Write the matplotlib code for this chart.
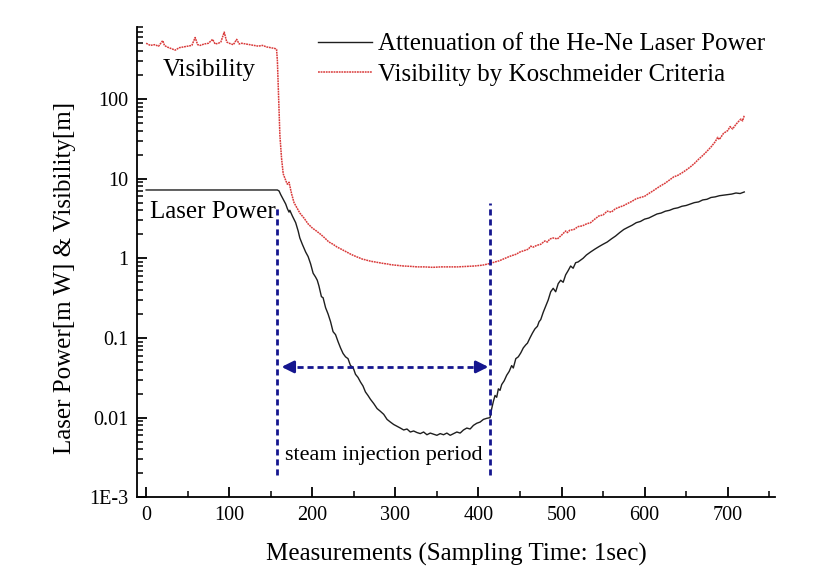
import numpy as np
import matplotlib
matplotlib.use("Agg")
import matplotlib.pyplot as plt
from matplotlib.ticker import FixedLocator, FixedFormatter, MultipleLocator, LogLocator, NullFormatter

# ---------------- data ----------------
vis_x = [0, 5, 10, 15, 20, 22, 25, 30, 35, 40, 45, 50, 55, 59, 62, 65, 70, 75, 80, 83, 87, 90, 94, 97,
         100, 105, 109, 112, 115, 120, 125, 130, 135, 140, 145, 150, 155, 157, 158, 159, 160, 161, 163,
         165, 168, 170, 172, 175, 178, 182, 185, 190, 195, 200, 205, 210, 215, 220, 225, 230, 235, 240,
         246, 250, 255, 260, 265, 270, 275, 280, 286, 290, 295, 300, 310, 320, 326, 335, 345, 355, 365,
         375, 385, 395, 405, 414, 420, 425, 430, 435, 440, 445, 450, 455, 460, 463, 466, 470, 475, 480,
         483, 486, 490, 495, 500, 505, 507, 510, 515, 520, 525, 530, 535, 540, 545, 550, 555, 560, 565,
         570, 575, 580, 585, 590, 595, 600, 605, 610, 615, 620, 625, 630, 635, 640, 645, 650, 655, 660,
         665, 670, 675, 680, 685, 688, 690, 695, 700, 703, 706, 710, 713, 716, 718, 720]
vis_y = [500, 470, 480, 460, 540, 470, 450, 430, 410, 440, 450, 460, 470, 590, 480, 470, 490, 500, 560,
         490, 500, 520, 690, 520, 500, 480, 560, 490, 500, 490, 480, 470, 460, 470, 450, 440, 430, 420,
         300, 150, 70, 35, 18, 11.5, 9.5, 8.5, 9.0, 6.5, 5.0, 4.2, 3.7, 3.2, 2.7, 2.4, 2.2, 2.0, 1.8,
         1.6, 1.5, 1.38, 1.3, 1.22, 1.13, 1.08, 1.03, 0.98, 0.95, 0.92, 0.90, 0.88, 0.86, 0.85, 0.83,
         0.82, 0.80, 0.79, 0.78, 0.78, 0.77, 0.78, 0.78, 0.78, 0.79, 0.80, 0.82, 0.86, 0.90, 0.93, 0.98,
         1.03, 1.08, 1.12, 1.20, 1.25, 1.30, 1.42, 1.38, 1.45, 1.50, 1.65, 1.60, 1.75, 1.80, 1.75, 1.95,
         2.20, 2.10, 2.25, 2.30, 2.50, 2.55, 2.70, 2.80, 3.10, 3.40, 3.50, 3.90, 3.80, 4.20, 4.40, 4.60,
         4.90, 5.20, 5.60, 5.80, 6.00, 6.50, 7.00, 7.60, 8.20, 8.80, 9.60, 10.5, 11.0, 11.8, 12.8, 14.0,
         15.5, 17.5, 19.5, 22.0, 25.0, 29.0, 33.0, 31.0, 37.0, 40.0, 45.0, 42.0, 48.0, 52.0, 56.0, 53.0,
         62.0]

laser_x = [0, 158, 160, 162, 165, 168, 170, 172, 173, 176, 180, 183, 185, 188, 192, 195, 198, 201, 204,
           206, 208, 211, 213, 216, 219, 222, 225, 228, 231, 234, 237, 240, 243, 246, 249, 252, 255, 258,
           261, 264, 267, 270, 274, 278, 282, 286, 290, 294, 298, 302, 306, 310, 314, 318, 322, 326, 330,
           334, 338, 342, 346, 350, 354, 358, 362, 366, 370, 374, 378, 382, 386, 390, 394, 398, 402, 406,
           410, 414, 416, 418, 420, 422, 424, 426, 428, 431, 434, 437, 440, 442, 445, 448, 451, 454, 457,
           459, 462, 465, 468, 471, 473, 475, 478, 481, 484, 487, 490, 493, 496, 499, 502, 505, 508, 511,
           514, 517, 520, 523, 526, 530, 535, 540, 545, 550, 555, 560, 565, 570, 575, 580, 585, 590, 595,
           600, 605, 610, 615, 620, 625, 630, 635, 640, 645, 650, 655, 660, 665, 670, 675, 680, 685, 690,
           695, 700, 705, 710, 715, 720]
laser_y = [7.2, 7.2, 7.0, 6.3, 5.5, 4.8, 4.2, 3.8, 4.0, 3.4, 2.8, 2.2, 1.8, 1.5, 1.2, 1.05, 0.85, 0.65,
           0.58, 0.53, 0.45, 0.33, 0.32, 0.24, 0.20, 0.16, 0.12, 0.11, 0.09, 0.075, 0.064, 0.058, 0.055,
           0.045, 0.043, 0.035, 0.032, 0.028, 0.025, 0.021, 0.019, 0.017, 0.015, 0.013, 0.012, 0.011,
           0.0095, 0.0088, 0.0082, 0.0078, 0.0074, 0.0070, 0.0072, 0.0066, 0.0068, 0.0065, 0.0063,
           0.0066, 0.0061, 0.0064, 0.0062, 0.0060, 0.0063, 0.0061, 0.0064, 0.0060, 0.0063, 0.0066,
           0.0064, 0.0070, 0.0074, 0.0072, 0.0080, 0.0085, 0.0088, 0.0095, 0.0098, 0.0100, 0.013, 0.016,
           0.019, 0.018, 0.023, 0.022, 0.026, 0.029, 0.034, 0.038, 0.045, 0.042, 0.055, 0.058, 0.065,
           0.075, 0.082, 0.086, 0.10, 0.115, 0.13, 0.14, 0.16, 0.17, 0.21, 0.25, 0.30, 0.38, 0.42, 0.38,
           0.48, 0.53, 0.50, 0.62, 0.70, 0.80, 0.75, 0.88, 0.90, 0.95, 1.0, 1.1, 1.2, 1.3, 1.4, 1.5, 1.6,
           1.75, 1.9, 2.1, 2.3, 2.45, 2.6, 2.8, 2.9, 3.1, 3.2, 3.4, 3.6, 3.7, 3.9, 4.0, 4.2, 4.3, 4.5,
           4.6, 4.8, 5.0, 5.1, 5.4, 5.5, 5.8, 5.9, 6.1, 6.2, 6.3, 6.4, 6.6, 6.5, 6.8]

period_start = 158
period_end = 414
arrow_level = 0.0433
marker_bottom = 0.0019
marker_top_start = 4.3
marker_top_end = 4.9

y_tick_values = [1e-3, 1e-2, 1e-1, 1, 10, 100]
y_tick_labels = ["1E-3", "0.01", "0.1", "1", "10", "100"]
x_tick_values = [0, 100, 200, 300, 400, 500, 600, 700]
x_tick_labels = ["0", "100", "200", "300", "400", "500", "600", "700"]

label_laser = "Attenuation of the He-Ne Laser Power"
label_vis = "Visibility by Koschmeider Criteria"

# ---------------- figure ----------------
plt.rcParams['font.family'] = ['Liberation Serif', 'DejaVu Serif']

fig = plt.figure(figsize=(8.35, 5.78), dpi=100)
ax = fig.add_axes([137/835, 1 - 497.3/578, (775-137)/835, (497.3-26.7)/578])

navy = '#15168f'
red = '#d93a3a'

l1, = ax.plot(laser_x, laser_y, color='#1e1e1e', lw=1.0, label=label_laser)
l2, = ax.plot(vis_x, vis_y, color=red, lw=1.1, linestyle=(0, (1.2, 0.5)), label=label_vis)

ax.set_yscale('log')
ax.set_xlim(-11, 757)
ax.set_ylim(1e-3, 807)

# dashed period markers
dash = (0, (2.2, 1.4))
ax.plot([period_start, period_start], [marker_bottom, marker_top_start], color=navy, lw=2.0, linestyle=dash)
ax.plot([period_end, period_end], [marker_bottom, marker_top_end], color=navy, lw=2.0, linestyle=dash)
ax.plot([period_start + 12, period_end - 12], [arrow_level, arrow_level], color=navy, lw=2.0, linestyle=dash)
ax.annotate('', xy=(period_start + 5, arrow_level), xytext=(period_start + 16, arrow_level),
            arrowprops=dict(arrowstyle='-|>', color=navy, lw=2.0, mutation_scale=18, shrinkA=0, shrinkB=0))
ax.annotate('', xy=(period_end - 2, arrow_level), xytext=(period_end - 13, arrow_level),
            arrowprops=dict(arrowstyle='-|>', color=navy, lw=2.0, mutation_scale=18, shrinkA=0, shrinkB=0))

# annotations
ax.text(19.6, 194, "Visibility", fontsize=18, ha='left', va='baseline')
ax.text(5.2, 3.2, "Laser Power", fontsize=18, ha='left', va='baseline')
ax.text(167.6, 0.00294, "steam injection period", fontsize=16, ha='left', va='baseline')

# axes styling
for s in ['top', 'right']:
    ax.spines[s].set_visible(False)
for s in ['left', 'bottom']:
    ax.spines[s].set_linewidth(1.3)

ax.xaxis.set_major_locator(FixedLocator(x_tick_values))
ax.xaxis.set_major_formatter(FixedFormatter(x_tick_labels))
ax.xaxis.set_minor_locator(MultipleLocator(50))
ax.yaxis.set_major_locator(FixedLocator(y_tick_values))
ax.yaxis.set_major_formatter(FixedFormatter(y_tick_labels))
ax.yaxis.set_minor_locator(LogLocator(base=10, subs=np.arange(2, 10)))
ax.yaxis.set_minor_formatter(NullFormatter())

ax.tick_params(axis='both', which='major', direction='in', length=7, width=1.3, labelsize=14.5, pad=6)
ax.tick_params(axis='both', which='minor', direction='in', length=4, width=1.1)
ax.tick_params(top=False, right=False, which='both')

ax.set_xlabel("Measurements (Sampling Time: 1sec)", fontsize=18)
ax.set_ylabel("Laser Power[m W] & Visibility[m]", fontsize=18)
ax.xaxis.set_label_coords(0.5, (497.3 - 543) / 470.6)
ax.yaxis.set_label_coords((76 - 137) / 638, (497.3 - 278) / 470.6)

leg = ax.legend(handles=[l1, l2], loc='upper left', bbox_to_anchor=(318/835, 1 - 33/578),
                bbox_transform=fig.transFigure, frameon=False, fontsize=18,
                handlelength=2.16, handletextpad=0.25, labelspacing=0.32,
                borderpad=0, borderaxespad=0)

fig.savefig("out.png", dpi=100)
